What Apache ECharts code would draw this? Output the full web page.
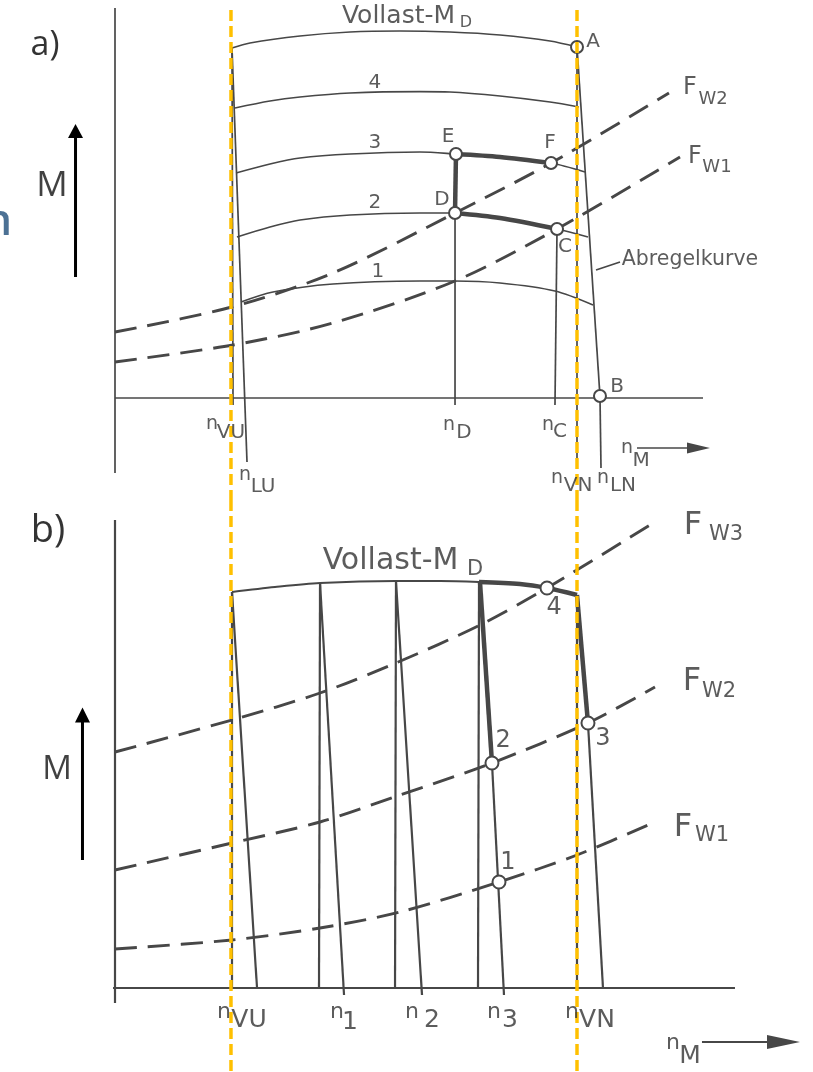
<!DOCTYPE html>
<html><head><meta charset="utf-8">
<script src="https://cdn.jsdelivr.net/npm/echarts@6/dist/echarts.min.js"></script>
<style>html,body{margin:0;padding:0;background:#fff}#c{width:813px;height:1072px}</style>
</head><body><div id="c"></div>
<script>
// ===== DATA (n = engine speed units, M = torque units) =====
// ---- panel a ----
const fullLoadA = [[19.5,87.5],[22.5,88.75],[30.83,90.5],[39.17,91.5],[47.5,91.75],[55.83,91.5],[64.17,90.75],[72.5,89.25],[77,87.75]];
const part4A = [[20,72.5],[25.83,74.25],[30.83,75.25],[39.17,76.25],[50.83,76.6],[55.83,76.5],[64.17,75.5],[72.5,74],[77.33,72.75]];
const part3A = [[20.17,56.25],[25.83,58.5],[30.83,60],[39.17,61],[50.83,61.5],[56.83,61],[64.17,60.25],[72.67,58.75],[78.33,56.5]];
const part2A = [[20.33,40.25],[25.83,42.75],[30.83,44.5],[39.17,45.75],[50.83,46.25],[56.67,46.25],[64.17,45],[73.67,42.25],[78.83,40.25]];
const part1A = [[21,24],[26.33,26.5],[36.33,28.5],[50.83,29.25],[56.67,29.25],[64.17,28.75],[73.33,26.75],[79.67,23.25]];
const fw2A = [[0,16.5],[19.5,22.75],[36.33,31.25],[56.67,46.25],[72.67,58.75],[92.33,76.25]];
const fw1A = [[0,9],[19.67,13.25],[36.33,18.75],[56.67,29.25],[73.67,42.25],[94.17,60.25]];
const thickEF_A = [[56.83,61],[64.17,60.25],[72.67,58.75]];
const thickDC_A = [[56.67,46.25],[64.17,45],[73.67,42.25]];
const thickED_A = [[56.83,61],[56.67,46.25]];
const segmentsA = [
  [[19.5,87.5],[19.67,-1.75]],   // n_VU
  [[19.5,87.5],[22,-16]],        // n_LU
  [[77,87.75],[77,-16]],         // n_VN
  [[77,87.75],[80.83,0.5]],      // Abregelkurve
  [[80.83,0.5],[81,-17.5]],      // n_LN
  [[56.67,46.25],[56.67,-1.75]], // n_D
  [[73.67,42.25],[73.33,-1.75]], // n_C
  [[0,0],[98,0]],                // M = 0
  [[0,97.5],[0,-18.75]],         // M axis
  [[80.17,32],[84.17,34]]        // leader to label
];
const pointsA = [[77,87.75],[56.83,61],[72.67,58.75],[56.67,46.25],[73.67,42.25],[80.83,0.5]];
const arrowMA = [[-6.58,30.25],[-6.58,65.5]], headMA = [-6.58,66.75];
const arrowNA = [[87,-12.5],[96,-12.5]], headNA = [97.25,-12.5];
const labelsA = [
  ['a)',-11.67,88.25,'panelA'], ['M',-10.5,52.9,'bigMA'], ['n',-17.17,43.75,'blue'],
  ['Vollast-M',47.25,95.4,'titleA'], ['D',58.5,93.75,'subA'],
  ['4',43.33,78.75,'numA'], ['3',43.33,63.75,'numA'], ['2',43.33,48.75,'numA'], ['1',43.83,31.5,'numA'],
  ['A',79.67,89,'numA'], ['E',55.5,65.25,'numA'], ['F',72.5,63.75,'numA'], ['D',54.5,49.5,'numA'], ['C',75,37.75,'numA'], ['B',83.67,2.75,'numA'],
  ['F',95.83,77.5,'fA'], ['W2',99.67,74.75,'wA'], ['F',96.67,60.25,'fA'], ['W1',100.33,57.75,'wA'],
  ['Abregelkurve',95.83,34.5,'abA'],
  ['n',16.17,-6.5,'nA'], ['VU',19.33,-8.75,'subnA'],
  ['n',21.67,-19.25,'nA'], ['LU',24.67,-22.25,'subnA'],
  ['n',55.67,-6.75,'nA'], ['D',58.17,-8.75,'subnA'],
  ['n',72.17,-6.75,'nA'], ['C',74.17,-8.5,'subnA'],
  ['n',73.67,-20,'nA'], ['VN',77.17,-22,'subnA'],
  ['n',81.33,-20,'nA'], ['LN',84.67,-22,'subnA'],
  ['n',85.33,-12.5,'nA'], ['M',87.67,-15.75,'subnA']
];
// ---- panel b ----
const fullLoadB = [[19.5,99],[26.67,100.25],[34.17,101.25],[46.83,101.75],[54.17,101.75],[60.67,101.5],[67.5,101],[72,100],[77,98.25]];
const thickTopB = [[60.67,101.5],[67.5,101],[72,100],[77,98.25]];
const fw3B = [[0,59],[19.5,67],[34.17,73.75],[46.83,81.25],[60.83,90.75],[72,100],[90.5,117]];
const fw2B = [[0,29.5],[19.5,36.25],[34.17,41.5],[47.5,48.25],[62.83,56.25],[78.83,66.25],[90,75.25]];
const fw1B = [[0,9.75],[19.5,12],[34.17,15],[47.5,19],[64,26.5],[77,33.25],[90,41.5]];
const segmentsB = [
  [[19.5,99],[19.5,0]], [[19.5,99],[23.67,0]],
  [[34.17,101.25],[34,0]], [[34.17,101.25],[38.17,-1.75]],
  [[46.83,101.75],[46.67,0]], [[46.83,101.75],[51.17,-1.75]],
  [[60.67,101.5],[60.5,0]], [[62.83,56.25],[64.83,-1.75]],
  [[77,98.25],[77,0]], [[78.83,66.25],[81.33,0]],
  [[-0.33,0],[103.33,0]], [[0,117],[0,-3.75]]
];
const thickB = [[[60.83,101.5],[62.83,56.25]], [[77,98.25],[78.83,66.25]]];
const pointsB = [[72,100],[62.83,56.25],[78.83,66.25],[64,26.5]];
const arrowMB = [[-5.42,32],[-5.42,67]], headMB = [-5.42,68.25];
const arrowNB = [[97.83,-13.5],[109.5,-13.5]], headNB = [111.42,-13.5];
const labelsB = [
  ['b)',-11.17,114.25,'panelB'], ['M',-9.67,54.5,'bigMB'],
  ['Vollast-M',45.92,106.75,'titleB'], ['D',60,104.5,'subB'],
  ['4',73.17,95,'numB'], ['2',64.67,61.75,'numB'], ['3',81.33,62.25,'numB'], ['1',65.5,31.25,'numB'],
  ['F',96.33,115.5,'fB'], ['W3',101.83,113.25,'wB'],
  ['F',96.17,76.5,'fB'], ['W2',100.67,74,'wB'],
  ['F',94.67,40,'fB'], ['W1',99.5,38,'wB'],
  ['n',18.17,-6,'nB'], ['VU',22.33,-8,'subnB'],
  ['n',37,-6,'nB'], ['1',39.17,-8.5,'subnB'],
  ['n',49.5,-6,'nB'], ['2',52.83,-8,'subnB'],
  ['n',63.17,-6,'nB'], ['3',65.83,-8,'subnB'],
  ['n',76.17,-6,'nB'], ['VN',80.33,-8,'subnB'],
  ['n',93,-13.75,'nB'], ['M',95.83,-17,'subnB']
];
// ---- reference lines (yellow) ----
const yellowN = [19.33, 77];

// ===== STYLES =====
const GRAY = '#474747', TXT = '#333333', TECH = 'DejaVu Sans', UI = '"Open Sans", sans-serif';
const ST = {
  panelA:{fontFamily:UI,fontSize:34,color:'#000'}, panelB:{fontFamily:UI,fontSize:38,color:'#000'},
  bigMA:{fontFamily:UI,fontSize:35,color:'#111'}, bigMB:{fontFamily:UI,fontSize:33,color:'#111'},
  blue:{fontFamily:UI,fontSize:43,fontWeight:600,color:'#1F4E79',align:'right'},
  titleA:{fontFamily:TECH,fontSize:25,color:TXT}, subA:{fontFamily:TECH,fontSize:16,color:TXT},
  titleB:{fontFamily:TECH,fontSize:30,color:TXT}, subB:{fontFamily:TECH,fontSize:21,color:TXT},
  numA:{fontFamily:TECH,fontSize:20,color:TXT}, numB:{fontFamily:TECH,fontSize:24,color:TXT},
  fA:{fontFamily:TECH,fontSize:24,color:TXT}, wA:{fontFamily:TECH,fontSize:18,color:TXT},
  fB:{fontFamily:TECH,fontSize:32,color:TXT}, wB:{fontFamily:TECH,fontSize:21,color:TXT},
  abA:{fontFamily:TECH,fontSize:20.5,color:TXT},
  nA:{fontFamily:TECH,fontSize:19,color:TXT}, subnA:{fontFamily:TECH,fontSize:20,color:TXT},
  nB:{fontFamily:TECH,fontSize:22,color:TXT}, subnB:{fontFamily:TECH,fontSize:25,color:TXT}
};
const thinA = {color:GRAY,width:1.7}, thinB = {color:GRAY,width:2.2};
const thick = {color:GRAY,width:4.5};
const dash = {color:GRAY,width:2.9,type:[22,11]};
const yellow = {color:'#FFC000',width:3.5,type:[11,5]};

// ===== BUILD =====
const S = [];
function line(data, gi, style, smooth, z) {
  S.push({type:'line', xAxisIndex:gi, yAxisIndex:gi, data, symbol:'none', showSymbol:false,
    smooth: smooth ? 0.3 : false, lineStyle:style, silent:true, animation:false, z: z||2});
}
function pts(data, gi, size) {
  S.push({type:'scatter', xAxisIndex:gi, yAxisIndex:gi, data, symbol:'circle', symbolSize:size,
    itemStyle:{color:'#fff', opacity:1, borderColor:GRAY, borderWidth:2}, silent:true, animation:false, z:5});
}
function head(p, gi, w, h, rot, color) {
  S.push({type:'scatter', xAxisIndex:gi, yAxisIndex:gi, data:[p], symbol:'triangle', symbolSize:[w,h],
    symbolRotate:rot, itemStyle:{color, opacity:1}, silent:true, animation:false, z:5});
}
function labels(list, gi) {
  S.push({type:'scatter', xAxisIndex:gi, yAxisIndex:gi, symbolSize:0, silent:true, animation:false, z:12,
    data: list.map(([t,n,m,s]) => ({value:[n,m], label:Object.assign({show:true, position:'inside',
      align:'center', verticalAlign:'middle', formatter:() => t}, ST[s])}))});
}
// panel a
[fullLoadA, part4A, part3A, part2A, part1A].forEach(d => line(d,0,thinA,true));
[fw2A, fw1A].forEach(d => line(d,0,dash,true));
segmentsA.forEach(d => line(d,0,thinA,false));
line(thickEF_A,0,thick,true,3); line(thickDC_A,0,thick,true,3); line(thickED_A,0,thick,false,3);
pts(pointsA,0,12);
line(arrowMA,0,{color:'#000',width:3},false); head(headMA,0,15,14,0,'#000');
line(arrowNA,0,{color:GRAY,width:1.7},false); head(headNA,0,11,23,-90,GRAY);
labels(labelsA,0);
// panel b
line(fullLoadB,1,thinB,true);
line(thickTopB,1,thick,true,3);
[fw3B, fw2B, fw1B].forEach(d => line(d,1,dash,true));
segmentsB.forEach(d => line(d,1,thinB,false));
thickB.forEach(d => line(d,1,thick,false,3));
pts(pointsB,1,13);
line(arrowMB,1,{color:'#000',width:3},false); head(headMB,1,15,15,0,'#000');
line(arrowNB,1,{color:GRAY,width:2},false); head(headNB,1,14,33,-90,GRAY);
labels(labelsB,1);
// yellow reference lines
yellowN.forEach(n => { line([[n,97],[n,-25.5]],0,yellow,false,10); line([[n,122],[n,-21]],1,yellow,false,10); });

const chart = echarts.init(document.getElementById('c'), null, {renderer:'canvas'});
chart.setOption({
  animation:false,
  grid:[{left:0, top:0, width:813, height:500}, {left:0, top:500, width:813, height:572}],
  xAxis:[{type:'value', gridIndex:0, min:-19.1667, max:116.3333, show:false},
         {type:'value', gridIndex:1, min:-19.1667, max:116.3333, show:false}],
  yAxis:[{type:'value', gridIndex:0, min:-25.5, max:99.5, show:false},
         {type:'value', gridIndex:1, min:-21, max:122, show:false}],
  series:S
});
</script></body></html>
